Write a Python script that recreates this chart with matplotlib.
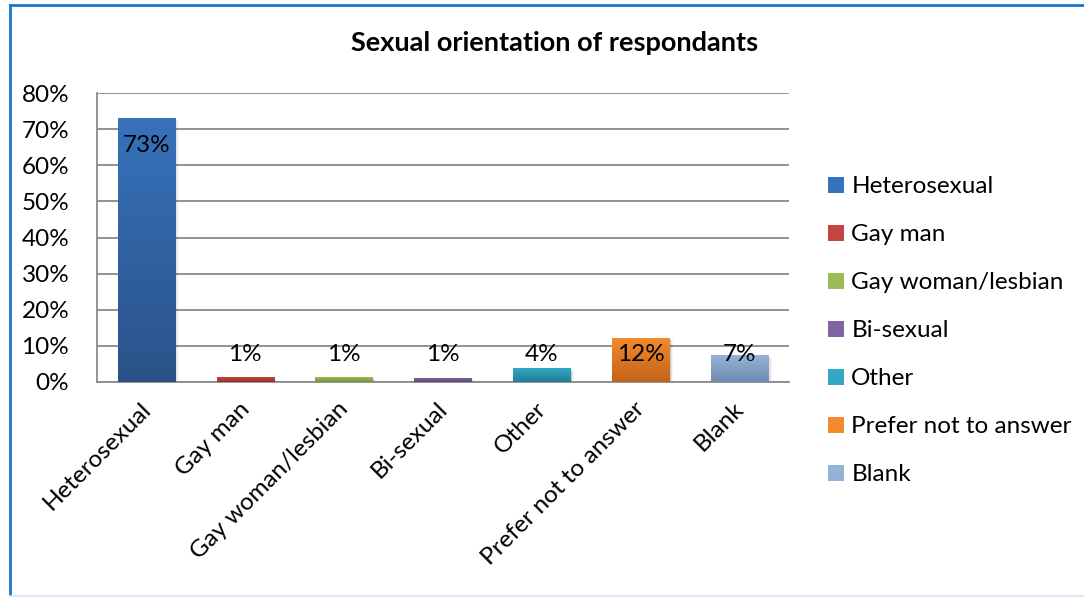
import numpy as np
import matplotlib
matplotlib.use("Agg")
import matplotlib.pyplot as plt
from matplotlib.patches import Rectangle, Patch
from matplotlib.colors import LinearSegmentedColormap
from matplotlib.lines import Line2D
from matplotlib.transforms import ScaledTranslation

plt.rcParams['font.family'] = ['Lato', 'DejaVu Sans']

# Survey results
categories = ["Heterosexual", "Gay man", "Gay woman/lesbian", "Bi-sexual",
              "Other", "Prefer not to answer", "Blank"]
shares = [0.73, 0.013, 0.013, 0.010, 0.038, 0.122, 0.074]
y_ticks = [0.0, 0.1, 0.2, 0.3, 0.4, 0.5, 0.6, 0.7, 0.8]
title = "Sexual orientation of respondants"

# (top, bottom) gradient colours per bar
bar_colors = [("#3772BC", "#2A5289"),
              ("#C0463F", "#992F2B"),
              ("#9BBB59", "#76923B"),
              ("#8064A2", "#5C4679"),
              ("#32A8C3", "#227E96"),
              ("#F58A2C", "#C2631A"),
              ("#95B3D7", "#6F8BB2")]

FS = 17.5

fig = plt.figure(figsize=(10.84, 5.97), dpi=100)
ax = fig.add_axes([97 / 1084, 1 - 382 / 597, (789 - 97) / 1084, (382 - 93) / 597])

x = np.arange(len(categories))
width = 0.58
grad = np.linspace(0, 1, 256).reshape(-1, 1)

for xi, v, (ctop, cbot) in zip(x, shares, bar_colors):
    # soft shadow
    for k, a in enumerate([0.10, 0.07, 0.04]):
        d = 0.012 * (k + 1)
        ax.add_patch(Rectangle((xi - width / 2 + d, -0.004 - 0.0015 * k),
                               width, v, facecolor="#000000", alpha=a,
                               edgecolor="none", zorder=2))
    rect = Rectangle((xi - width / 2, 0), width, v, facecolor="none",
                     edgecolor="none", zorder=3)
    ax.add_patch(rect)
    cmap = LinearSegmentedColormap.from_list("g", [cbot, ctop])
    im = ax.imshow(grad, cmap=cmap, aspect="auto", origin="lower",
                   extent=[xi - width / 2, xi + width / 2, 0, v], zorder=3)
    im.set_clip_path(rect)

# value labels
for xi, v in zip(x, shares):
    txt = f"{v:.0%}"
    if v > 0.5:
        ax.text(xi, v - 0.045, txt, ha="center", va="top", fontsize=FS,
                color="black", zorder=5)
    else:
        ax.text(xi, 0.075, txt, ha="center", va="center", fontsize=FS,
                color="black", zorder=5)

ax.set_xlim(-0.5, len(categories) - 0.5)
ax.set_ylim(0, 0.8)
ax.set_yticks(y_ticks)
ax.set_yticklabels([f"{t:.0%}" for t in y_ticks], fontsize=FS)
ax.yaxis.grid(True, color="#8A8A8A", linewidth=1.3, zorder=0)
ax.set_axisbelow(True)
ax.tick_params(axis="y", length=0, pad=20)
ax.set_xticks(x)
ax.set_xticklabels(categories, rotation=45, ha="right", va="center",
                   rotation_mode="anchor", fontsize=FS)
ax.tick_params(axis="x", length=0, pad=17)
shift = ScaledTranslation(1 / 100, 0, fig.dpi_scale_trans)
for lab in ax.get_xticklabels():
    lab.set_transform(lab.get_transform() + shift)
for s in ["top", "right"]:
    ax.spines[s].set_visible(False)
for s in ["left", "bottom"]:
    ax.spines[s].set_color("#8A8A8A")
    ax.spines[s].set_linewidth(1.3)

fig.text(555 / 1084, 1 - 43 / 597, title, ha="center", va="center",
         fontsize=19.5, fontweight="bold")

handles = [Patch(facecolor=c[0], edgecolor="none") for c in bar_colors]
leg = fig.legend(handles, categories, loc="upper left",
                 bbox_to_anchor=(809 / 1084, 1 - 157 / 597), frameon=False,
                 fontsize=FS, handlelength=0.62, handleheight=0.62,
                 handletextpad=0.32, labelspacing=1.11, borderpad=0.3)

# chart frame
fig.add_artist(Line2D([9.5 / 1084, 9.5 / 1084], [0, 1 - 5 / 597],
                      transform=fig.transFigure, color="#1B75C9", lw=2))
fig.add_artist(Line2D([9.5 / 1084, 1], [1 - 5 / 597, 1 - 5 / 597],
                      transform=fig.transFigure, color="#1B75C9", lw=2))
fig.add_artist(Line2D([9.5 / 1084, 1], [1.5 / 597, 1.5 / 597],
                      transform=fig.transFigure, color="#D6E8F8", lw=2))

fig.savefig("out.png", dpi=100, facecolor="white")
